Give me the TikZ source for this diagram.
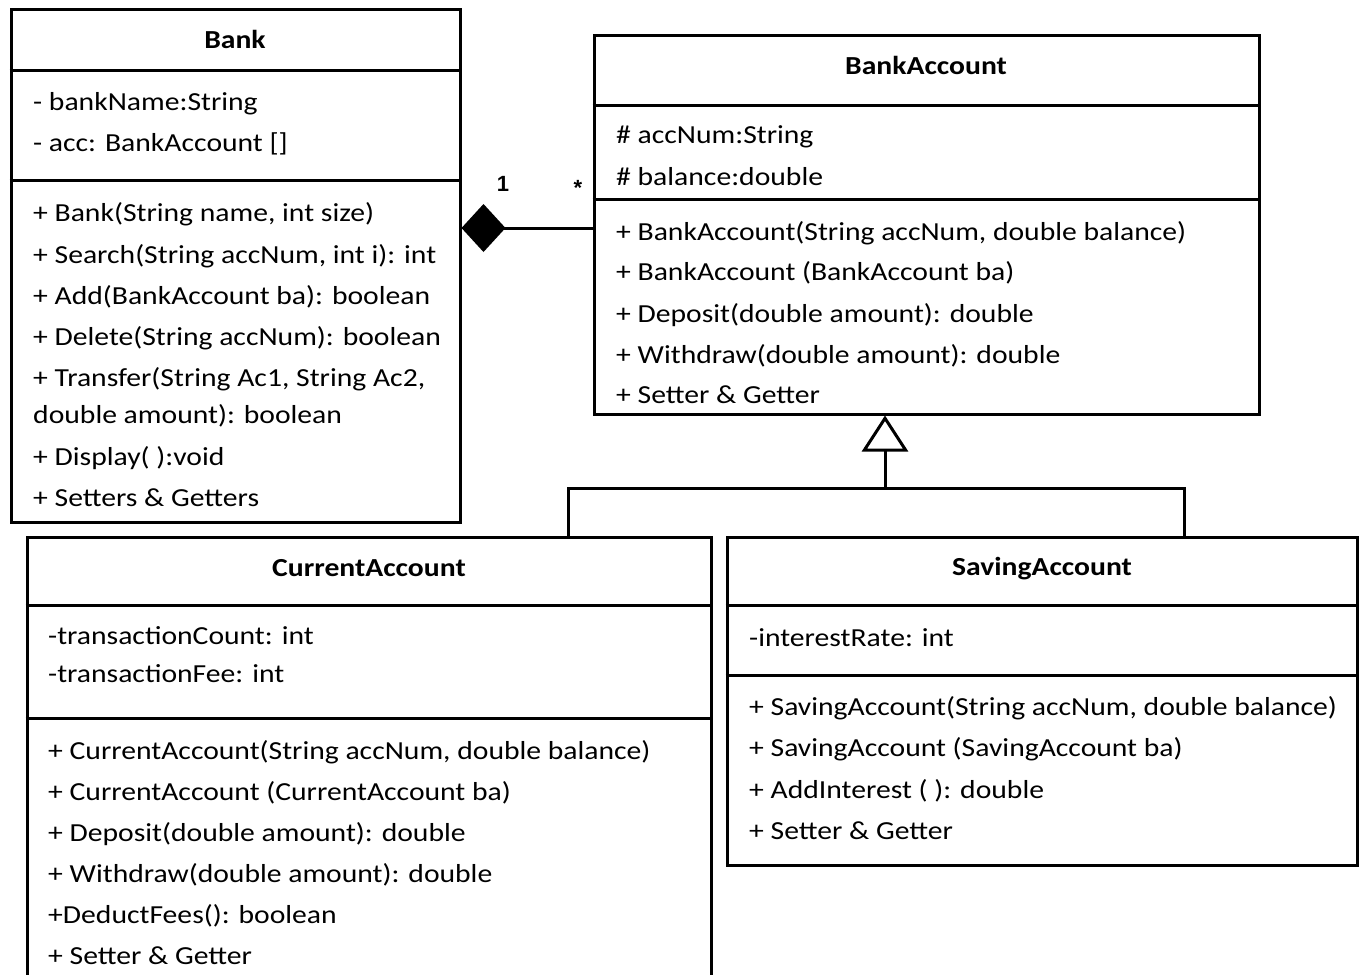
\documentclass[tikz,border=0pt]{standalone}
\usepackage{fontspec}
\setmainfont{Carlito}[FakeStretch=1.14]
\newfontfamily\multfont{Liberation Sans}
\usetikzlibrary{arrows.meta}
\begin{document}
\begin{tikzpicture}[x=1pt,y=-1pt,
  box/.style={draw,line width=3pt,rectangle,inner sep=0pt},
  sep/.style={line width=3pt},
  txt/.style={anchor=base west,inner sep=0pt,font=\fontsize{26}{30}\selectfont},
  ttl/.style={anchor=base,inner sep=0pt,font=\fontsize{26}{30}\selectfont\bfseries},
  mult/.style={anchor=base,inner sep=0pt,font=\multfont\fontsize{22}{26}\selectfont\bfseries},
  conn/.style={line width=3pt}]
\useasboundingbox (0,0) rectangle (1361,975);
% boxes
\node[box,minimum width=449pt,minimum height=513pt] (bank) at (235.5,265.5) {};
\node[box,minimum width=665pt,minimum height=379pt] (ba) at (926.5,224.5) {};
\node[box,minimum width=684pt,minimum height=463pt] (ca) at (369,768.5) {};
\node[box,minimum width=630pt,minimum height=328pt] (sa) at (1042,701) {};
% compartments
\draw[sep] (bank.west |- 0,70) -- (bank.east |- 0,70);
\draw[sep] (bank.west |- 0,180) -- (bank.east |- 0,180);
\draw[sep] (ba.west |- 0,105) -- (ba.east |- 0,105);
\draw[sep] (ba.west |- 0,199) -- (ba.east |- 0,199);
\draw[sep] (ca.west |- 0,605) -- (ca.east |- 0,605);
\draw[sep] (ca.west |- 0,718) -- (ca.east |- 0,718);
\draw[sep] (sa.west |- 0,605) -- (sa.east |- 0,605);
\draw[sep] (sa.west |- 0,675) -- (sa.east |- 0,675);
% titles
\node[ttl] (tbank) at (235,48) {Bank};
\node[ttl] (tba) at (926,74) {BankAccount};
\node[ttl] (tca) at (369,576) {CurrentAccount};
\node[ttl] (tsa) at (1042,575) {SavingAccount};
% Bank text
\node[txt] (b1) at (33,110) {- bankName:String};
\node[txt] (b2) at (33,151) {- acc: BankAccount []};
\node[txt] (b3) at (33,221) {+ Bank(String name, int size)};
\node[txt] (b4) at (33,263) {+ Search(String accNum, int i): int};
\node[txt] (b5) at (33,304) {+ Add(BankAccount ba): boolean};
\node[txt] (b6) at (33,345) {+ Delete(String accNum): boolean};
\node[txt] (b7) at (33,386) {+ Transfer(String Ac1, String Ac2,};
\node[txt] (b8) at (33,423) {double amount): boolean};
\node[txt] (b9) at (33,465) {+ Display( ):void};
\node[txt] (b10) at (33,506) {+ Setters \& Getters};
% BankAccount text
\node[txt] (a1) at (616,143) {\# accNum:String};
\node[txt] (a2) at (616,185) {\# balance:double};
\node[txt] (a3) at (616,240) {+ BankAccount(String accNum, double balance)};
\node[txt] (a4) at (616,280) {+ BankAccount (BankAccount ba)};
\node[txt] (a5) at (616,322) {+ Deposit(double amount): double};
\node[txt] (a6) at (616,363) {+ Withdraw(double amount): double};
\node[txt] (a7) at (616,403) {+ Setter \& Getter};
% CurrentAccount text
\node[txt] (c1) at (48,644) {-transactionCount: int};
\node[txt] (c2) at (48,682) {-transactionFee: int};
\node[txt] (c3) at (48,759) {+ CurrentAccount(String accNum, double balance)};
\node[txt] (c4) at (48,800) {+ CurrentAccount (CurrentAccount ba)};
\node[txt] (c5) at (48,841) {+ Deposit(double amount): double};
\node[txt] (c6) at (48,882) {+ Withdraw(double amount): double};
\node[txt] (c7) at (48,923) {+DeductFees(): boolean};
\node[txt] (c8) at (48,964) {+ Setter \& Getter};
% SavingAccount text
\node[txt] (s1) at (749,646) {-interestRate: int};
\node[txt] (s2) at (749,715) {+ SavingAccount(String accNum, double balance)};
\node[txt] (s3) at (749,756) {+ SavingAccount (SavingAccount ba)};
\node[txt] (s4) at (749,798) {+ AddInterest ( ): double};
\node[txt] (s5) at (749,839) {+ Setter \& Getter};
% composition
\coordinate (compA) at (ba.west |- 0,228);
\coordinate (compB) at (bank.east |- 0,228);
\draw[conn,-{Diamond[length=44pt,width=48pt,line width=0pt]}] (compA) -- (compB);
\node[mult] (m1) at (503,191) {1};
\node[mult] (m2) at (578,195) {*};
% inheritance
\coordinate (apex) at (ba.south -| 885,0);
\coordinate (junc) at (885,488);
\coordinate (jl) at (568,488);
\coordinate (jr) at (1184,488);
\draw[conn,-{Triangle[open,length=36pt,width=46pt,line width=3pt]}] (junc) -- (apex);
\draw[conn] (ca.north -| jl) -- (jl) -- (jr) -- (sa.north -| jr);
\end{tikzpicture}
\end{document}
